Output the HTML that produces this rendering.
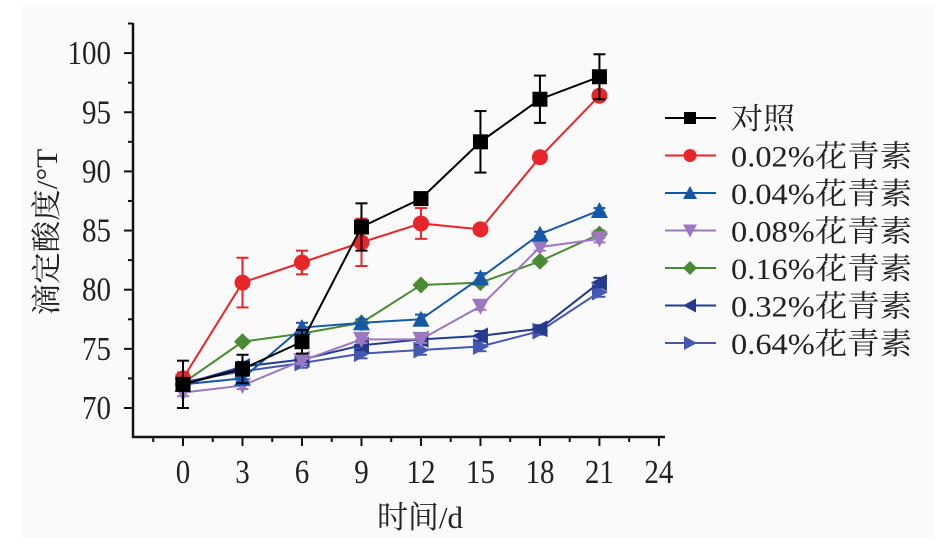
<!DOCTYPE html>
<html><head><meta charset="utf-8"><style>
html,body{margin:0;padding:0;background:#fff;}
svg{display:block;}
text{font-family:"Liberation Serif","Noto Serif CJK SC","Noto Sans CJK SC",serif;fill:#222;}
</style></head><body>
<svg width="943" height="552" viewBox="0 0 943 552" xmlns="http://www.w3.org/2000/svg">
<rect x="0" y="0" width="943" height="552" fill="#fff"/>
<rect x="22" y="5" width="912" height="533" fill="#fafafa"/>
<g stroke="#111" stroke-width="2.5" fill="none">
<line x1="133" y1="23" x2="133" y2="438"/>
<line x1="132" y1="437" x2="665" y2="437"/>
</g>
<g id="ticks" stroke="#111" stroke-width="2"></g>
<g id="labels" font-size="29"></g>
<text x="0" y="0" font-size="30" transform="translate(57,232) rotate(-90) scale(1.05,1)" text-anchor="middle">滴定酸度/°T</text>
<text x="420" y="528" font-size="31" text-anchor="middle">时间/d</text>
<g id="series"></g>
<g id="legend" font-size="30"></g>
</svg>
<script>
const NS="http://www.w3.org/2000/svg";
function el(t,a,p){const e=document.createElementNS(NS,t);for(const k in a)e.setAttribute(k,a[k]);p.appendChild(e);return e;}
const X=d=>183+d*19.83, Y=v=>408-(v-70)*11.83;
const tk=document.getElementById('ticks'), lb=document.getElementById('labels');
for(let v=70;v<=102.5;v+=2.5){const maj=v%5===0;el('line',{x1:maj?124:128,y1:Y(v),x2:133,y2:Y(v)},tk);
 if(maj){const t=el('text',{x:0,y:0,'text-anchor':'end',transform:`translate(111,${Y(v)+11}) scale(1,1.15)`},lb);t.textContent=v;}}
for(let d=-1.5;d<=24;d+=1.5){const maj=d%3===0;el('line',{x1:X(d),y1:437,x2:X(d),y2:maj?446:442},tk);
 if(maj&&d>=0){const t=el('text',{x:0,y:0,'text-anchor':'middle',transform:`translate(${X(d)},483) scale(1,1.15)`},lb);t.textContent=d;}}
const days=[0,3,6,9,12,15,18,21];
const S=[
 {c:'#000',m:'sq',v:[72,73.3,75.6,85.3,87.7,92.5,96.1,98],e:[2,1.2,1,2,0.3,2.6,2,1.9],n:'对照'},
 {c:'#e8262a',m:'ci',v:[72.5,80.6,82.3,84,85.6,85.1,91.2,96.4],e:[0.5,2.1,1,2,1.3,0.2,0.4,0.3],n:'0.02%花青素'},
 {c:'#1658a8',m:'up',v:[72,72.5,76.8,77.2,77.5,81,84.7,86.7],e:[0.3,0.3,0.4,0.3,0.4,0.4,0.2,0.2],n:'0.04%花青素'},
 {c:'#9b78c0',m:'dn',v:[71.3,71.9,74,75.8,75.8,78.6,83.6,84.3],e:[0.3,0.3,0.3,0.3,0.3,0.3,0.3,0.3],n:'0.08%花青素'},
 {c:'#4a8a34',m:'di',v:[72.1,75.6,76.3,77.2,80.4,80.6,82.4,84.7],e:[0.2,0.2,0.2,0.2,0.2,0.2,0.2,0.3],n:'0.16%花青素'},
 {c:'#243a8c',m:'lt',v:[72,73.5,74.1,75.3,75.8,76.1,76.7,80.6],e:[0.4,0.4,0.4,0.4,0.4,0.4,0.3,0.4],n:'0.32%花青素'},
 {c:'#4558b0',m:'rt',v:[72.2,73.1,73.8,74.6,74.9,75.2,76.5,79.8],e:[0.4,0.4,0.4,0.4,0.4,0.4,0.3,0.4],n:'0.64%花青素'}];
function mk(m,x,y,c,g,s){s=s||7.5;let p;
 if(m==='sq')return el('rect',{x:x-s,y:y-s,width:2*s,height:2*s,fill:c},g);
 if(m==='ci')return el('circle',{cx:x,cy:y,r:s+0.5,fill:c},g);
 if(m==='up')p=[[x,y-s-1],[x+s+1,y+s],[x-s-1,y+s]];
 if(m==='dn')p=[[x,y+s+1],[x+s+1,y-s],[x-s-1,y-s]];
 if(m==='di')p=[[x,y-s-1],[x+s+1,y],[x,y+s+1],[x-s-1,y]];
 if(m==='lt')p=[[x-s-1,y],[x+s,y-s-1],[x+s,y+s+1]];
 if(m==='rt')p=[[x+s+1,y],[x-s,y-s-1],[x-s,y+s+1]];
 return el('polygon',{points:p.map(a=>a.join(',')).join(' '),fill:c},g);}
const sg=document.getElementById('series');
[...S].reverse().forEach(s=>{const g=el('g',{},sg);
 el('polyline',{points:days.map((d,i)=>X(d)+','+Y(s.v[i])).join(' '),fill:'none',stroke:s.c,'stroke-width':2},g);
 days.forEach((d,i)=>{const x=X(d),y1=Y(s.v[i]+s.e[i]),y2=Y(s.v[i]-s.e[i]);
  el('line',{x1:x,y1:y1,x2:x,y2:y2,stroke:s.c,'stroke-width':2},g);
  el('line',{x1:x-6,y1:y1,x2:x+6,y2:y1,stroke:s.c,'stroke-width':2},g);
  el('line',{x1:x-6,y1:y2,x2:x+6,y2:y2,stroke:s.c,'stroke-width':2},g);
  mk(s.m,x,Y(s.v[i]),s.c,g);});});
const lg=document.getElementById('legend');
S.forEach((s,i)=>{const y=118+i*37.5;
 el('line',{x1:665,y1:y,x2:716,y2:y,stroke:s.c,'stroke-width':2},lg);
 mk(s.m,690,y,s.c,lg,6);
 const t=el('text',{x:731,y:y+11,textLength:s.n.length>2?181:64,lengthAdjust:'spacingAndGlyphs'},lg);t.textContent=s.n;});
</script>
</body></html>
